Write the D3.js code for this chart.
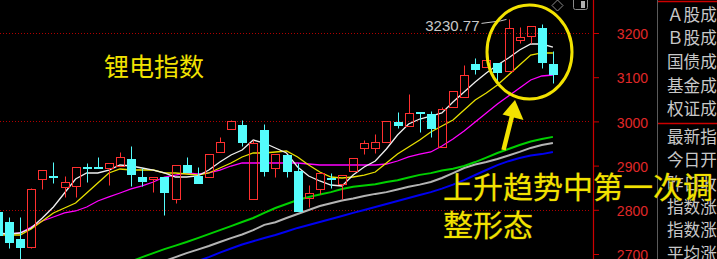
<!DOCTYPE html>
<html><head><meta charset="utf-8">
<script src="https://cdn.jsdelivr.net/npm/d3@7"></script>
<style>html,body{margin:0;padding:0;background:#000;overflow:hidden}svg{display:block}</style>
</head><body><svg id="c" width="717" height="259"></svg>
<script>
// ---- data ----
const categories = d3.range(51).map(i => "K" + (i + 1));
const open  = [2795,2772,2734,2716,2870,2877,2852,2854,2896,2896,2895,2899,2915,2874,2870,2874,2824,2901,2876.5,2874,2931,2983,2992,2824,2980,2895,2924,2888,2827,2847,2873,2858,2888,2940,2940,2953,2999,2990,3021,3017,2942,3033,3055,3130,3123,3132,3114,3185,3193,3211,3130];
const high  = [2800,2784,2784,2850,2890,2908,2876,2897,2906,2919,2906,2931,2944,2895,2874,2874,2901,2919.5,2897,2926,2965,3003,3003,2958,2994,2926,2924,2906,2856,2883,2883,2879,2917,2958,2971,3001,3021,3062,3021,3023.5,3032.6,3069,3127.6,3143,3146,3132,3230.77,3213.6,3216,3220,3159];
const low   = [2735,2714,2680,2714,2847,2861,2829,2829,2863,2895,2856,2899,2854,2854,2840,2788,2815,2885,2861,2874,2931,2983,2944,2824,2876,2874,2874,2797,2806,2836,2849,2824,2888,2926,2928,2953,2985,2990,2976,2965,2942,3033,3055,3107,3123,3089,3114,3177,3177,3121,3087];
const close = [2743,2727,2716,2847,2890,2876,2863,2897,2895,2895,2906,2919,2881,2865,2874,2840,2901,2885.5,2861,2926,2953,3001,2953,2951,2888,2926,2888,2797,2838,2883,2871,2879,2917,2951,2953,3001,2992,3019,3019,2985,3028,3069,3105,3119,3139,3112,3211,3190,3216,3134,3107];
const ma5   = [2747.5,2745.3,2747.5,2758.8,2781.5,2806.3,2838,2869.7,2883.3,2883.3,2890,2901.4,2899.1,2894.6,2890,2883.3,2874.2,2874.2,2876.5,2890,2908.1,2924,2935.3,2957.9,2951.1,2939.8,2928.5,2896.8,2876.5,2865.2,2856.1,2853.9,2878.7,2896.8,2910.4,2937.6,2969.2,2994.1,3005.4,3012.2,3019,3043.9,3066.5,3089.1,3109.5,3127.6,3143.4,3161.5,3175.1,3175.1,3168.3];
const ma10  = [2743,2743,2743,2756.6,2774.7,2792.8,2804.1,2815.4,2838,2860.6,2883.3,2892.3,2890,2890,2890,2883.3,2883.3,2881,2878.7,2883.3,2894.6,2905.9,2919.5,2928.5,2928.5,2930.8,2933,2919.5,2901.4,2885.5,2874.2,2871.9,2874.2,2878.7,2885.5,2905.9,2926.2,2942.1,2957.9,2976,2989.6,3003.2,3025.8,3048.4,3064.3,3082.4,3105,3127.6,3150.2,3154.8,3154.8];
const ma20  = [2743,2745.3,2747.5,2761.1,2774.7,2783.7,2792.8,2797.3,2806.3,2819.9,2829,2838,2847.1,2853.9,2862.9,2874.2,2878.7,2883.3,2881,2883.3,2890,2899.1,2905.9,2905.9,2905.9,2905.9,2905.9,2905.9,2903.6,2901.4,2901.4,2901.4,2901.4,2901.4,2901.4,2903.6,2910.4,2919.5,2926.2,2930.8,2944.4,2960.2,2978.3,2998.6,3019,3039.4,3057.5,3075.6,3093.7,3102.7,3105];
const ma60  = [null,null,null,null,null,null,null,null,null,null,null,null,2683,2693,2702,2711,2719,2727,2736,2745,2754,2763,2772.4,2781.5,2793,2804,2813,2822,2829,2834.6,2840,2847,2852,2855,2858,2863,2867,2873,2879,2883,2889,2893,2899,2908,2918,2928.5,2937.6,2946.6,2954.5,2960,2965];
const ma120 = [null,null,null,null,null,null,null,null,null,null,null,null,null,null,null,2684,2693,2702,2710,2718,2727,2736,2744,2754,2766,2772,2781.5,2790.5,2799.6,2808.6,2815,2821,2825.6,2831,2836,2840,2846,2852,2857,2863,2872,2883,2894.6,2902.5,2908,2915,2923,2931,2940,2946.6,2951];
const ma250 = [null,null,null,null,null,null,null,null,null,null,null,null,null,null,null,null,null,null,2684,2693,2703,2712.5,2721.5,2729,2736,2743,2751,2759,2765.6,2772.4,2779,2786,2793,2799.6,2806.3,2813,2820,2826.7,2833.5,2840,2848,2857,2867,2878.7,2890,2901,2910,2917,2923,2926,2931];
const yTicks = [2700,2800,2900,3000,3100,3200];
const gridValues = [2800,3000,3200];
const panelTop = ["Ａ股成","Ｂ股成","国债成","基金成","权证成"];
const panelBottom = ["最新指","今日开","昨日收","指数涨","指数涨","平均涨"];
const title = "锂电指数";
const noteLines = ["上升趋势中第一次调","整形态"];

// ---- layout ----
const W = 717, H = 259, plotRight = 593;
const svg = d3.select("#c");
svg.append("rect").attr("width", W).attr("height", H).attr("fill", "#000");

const x = d3.scaleBand().domain(categories).range([-7.65, 558.45]).paddingInner(0.28).paddingOuter(0.14);
const y = d3.scaleLinear().domain([2700, 3200]).range([254, 33]);
const xc = c => x(c) + x.bandwidth() / 2;

svg.append("clipPath").attr("id", "plot").append("rect").attr("x", 0).attr("y", 0).attr("width", plotRight).attr("height", H);
const g = svg.append("g").attr("clip-path", "url(#plot)");

// grid
g.selectAll("line.grid").data(gridValues).join("line")
  .attr("x1", 0).attr("x2", plotRight - 2)
  .attr("y1", d => Math.round(y(d)) + 0.5).attr("y2", d => Math.round(y(d)) + 0.5)
  .attr("stroke", "#b00000").attr("stroke-dasharray", "1,2");

// moving averages (drawn from read values)
const line = d3.line().defined(d => d.v != null).x(d => xc(d.c)).y(d => y(d.v));
const series = [
  {vals: ma250, color: "#0000f0", w: 2},
  {vals: ma120, color: "#b4b4b4", w: 2},
  {vals: ma60,  color: "#00d000", w: 2},
  {vals: ma20,  color: "#ff00ff", w: 1.3},
  {vals: ma10,  color: "#e8e000", w: 1.3},
  {vals: ma5,   color: "#f0f0f0", w: 1.3}
];
series.forEach(s => {
  g.append("path")
    .datum(categories.map((c, i) => ({c, v: s.vals[i]})))
    .attr("d", line).attr("fill", "none")
    .attr("stroke", s.color).attr("stroke-width", s.w);
});

// candles
const RED = "#ff3030", CYAN = "#54fcfc";
const candles = categories.map((c, i) => ({c, o: open[i], h: high[i], l: low[i], cl: close[i]}));
const cg = g.selectAll("g.k").data(candles).join("g");
cg.each(function(d) {
  const sel = d3.select(this);
  const left = Math.round(x(d.c)) + 0.5;
  const cx = left + 4;
  const up = d.cl >= d.o;
  const top = Math.round(y(Math.max(d.o, d.cl))) + 0.5;
  const bot = Math.max(top + 1, Math.round(y(Math.min(d.o, d.cl))) + 0.5);
  const yh = Math.round(y(d.h)) + 0.5, yl = Math.round(y(d.l)) + 0.5;
  const col = up ? RED : CYAN;
  if (yh < top) sel.append("line").attr("x1", cx).attr("x2", cx).attr("y1", yh).attr("y2", top).attr("stroke", col);
  if (yl > bot) sel.append("line").attr("x1", cx).attr("x2", cx).attr("y1", bot).attr("y2", yl).attr("stroke", col);
  if (up) {
    sel.append("rect").attr("x", left).attr("y", top).attr("width", 8).attr("height", bot - top)
      .attr("fill", "none").attr("stroke", RED);
  } else {
    sel.append("rect").attr("x", left - 0.5).attr("y", top - 0.5).attr("width", 9).attr("height", bot - top + 1)
      .attr("fill", CYAN);
  }
});

// max label
const iMax = d3.maxIndex(high);
const mx = xc(categories[iMax]), my = y(high[iMax]);
svg.append("path").attr("d", `M${mx - 27},${my + 4} L${mx - 8},${my + 1.5} L${mx - 2},${my}`)
  .attr("fill", "none").attr("stroke", "#c8c8c8").attr("stroke-width", 1);
svg.append("text").attr("x", mx - 29).attr("y", my + 11.5).attr("text-anchor", "end")
  .attr("font-family", "Liberation Sans, Arial, sans-serif").attr("font-size", 15)
  .attr("fill", "#c8c8c8").text(d3.format(".2f")(high[iMax]));

// axis
svg.append("line").attr("x1", plotRight + 0.5).attr("x2", plotRight + 0.5).attr("y1", 0).attr("y2", H)
  .attr("stroke", "#cc0000").attr("stroke-width", 1.2);
const ax = svg.append("g").attr("transform", `translate(${plotRight},0)`)
  .call(d3.axisRight(y).tickValues(yTicks).tickFormat(d3.format("d")).tickSize(6).tickPadding(4));
ax.select(".domain").remove();
ax.selectAll(".tick line").attr("stroke", "#cc0000");
ax.selectAll(".tick text").attr("x", 55).attr("dy", "0.4em").attr("text-anchor", "end")
  .attr("fill", "#e02828").attr("font-size", 14).attr("font-family", "Liberation Sans, Arial, sans-serif");

// top icons
svg.append("path").attr("d", "M557.5,0 L563,5.5 L557.5,11 L552,5.5 Z").attr("fill", "none").attr("stroke", "#8a8a8a");
svg.append("rect").attr("x", 573.5).attr("y", -3.5).attr("width", 14).attr("height", 13).attr("rx", 2)
  .attr("fill", "none").attr("stroke", "#8a8a8a");
svg.append("rect").attr("x", 581).attr("y", 1).attr("width", 4).attr("height", 7).attr("fill", "#b0b0b0");

// right panel
svg.append("line").attr("x1", 657.5).attr("x2", 657.5).attr("y1", 0).attr("y2", H).attr("stroke", "#5a5a5a");
svg.append("line").attr("x1", 658).attr("x2", W).attr("y1", 1.5).attr("y2", 1.5).attr("stroke", "#cc0000").attr("stroke-width", 1.5);
svg.append("line").attr("x1", 658).attr("x2", W).attr("y1", 123.5).attr("y2", 123.5).attr("stroke", "#cc0000").attr("stroke-width", 1.5);
const pf = "Noto Sans CJK SC, sans-serif";
svg.selectAll("text.pt").data(panelTop).join("text")
  .attr("x", 667).attr("y", (d, i) => 20.5 + i * 23.7)
  .attr("font-family", pf).attr("font-size", 16.6).attr("fill", "#c8c8c8").text(d => d);
svg.selectAll("text.pb").data(panelBottom).join("text")
  .attr("x", 667).attr("y", (d, i) => 143 + i * 23.3)
  .attr("font-family", pf).attr("font-size", 16.6).attr("fill", "#c8c8c8").text(d => d);

// annotations
const YEL = "#f2e200";
svg.append("text").attr("x", 104).attr("y", 76).attr("font-family", pf).attr("font-size", 25)
  .attr("fill", YEL).text(title);
svg.append("ellipse").attr("cx", 529.5).attr("cy", 52).attr("rx", 42.5).attr("ry", 47)
  .attr("fill", "none").attr("stroke", YEL).attr("stroke-width", 3);
svg.append("line").attr("x1", 503.5).attr("y1", 150).attr("x2", 512.5).attr("y2", 114)
  .attr("stroke", YEL).attr("stroke-width", 4.5);
svg.append("path").attr("d", "M515,100 L502.5,114.5 L523.5,120 Z").attr("fill", YEL);
svg.selectAll("text.note").data(noteLines).join("text")
  .attr("x", 443).attr("y", (d, i) => 198 + i * 38)
  .attr("font-family", pf).attr("font-size", 30).attr("fill", YEL)
  .attr("stroke", "#6a5e00").attr("stroke-width", 0.6).attr("paint-order", "stroke")
  .text(d => d);
</script>
</body></html>
